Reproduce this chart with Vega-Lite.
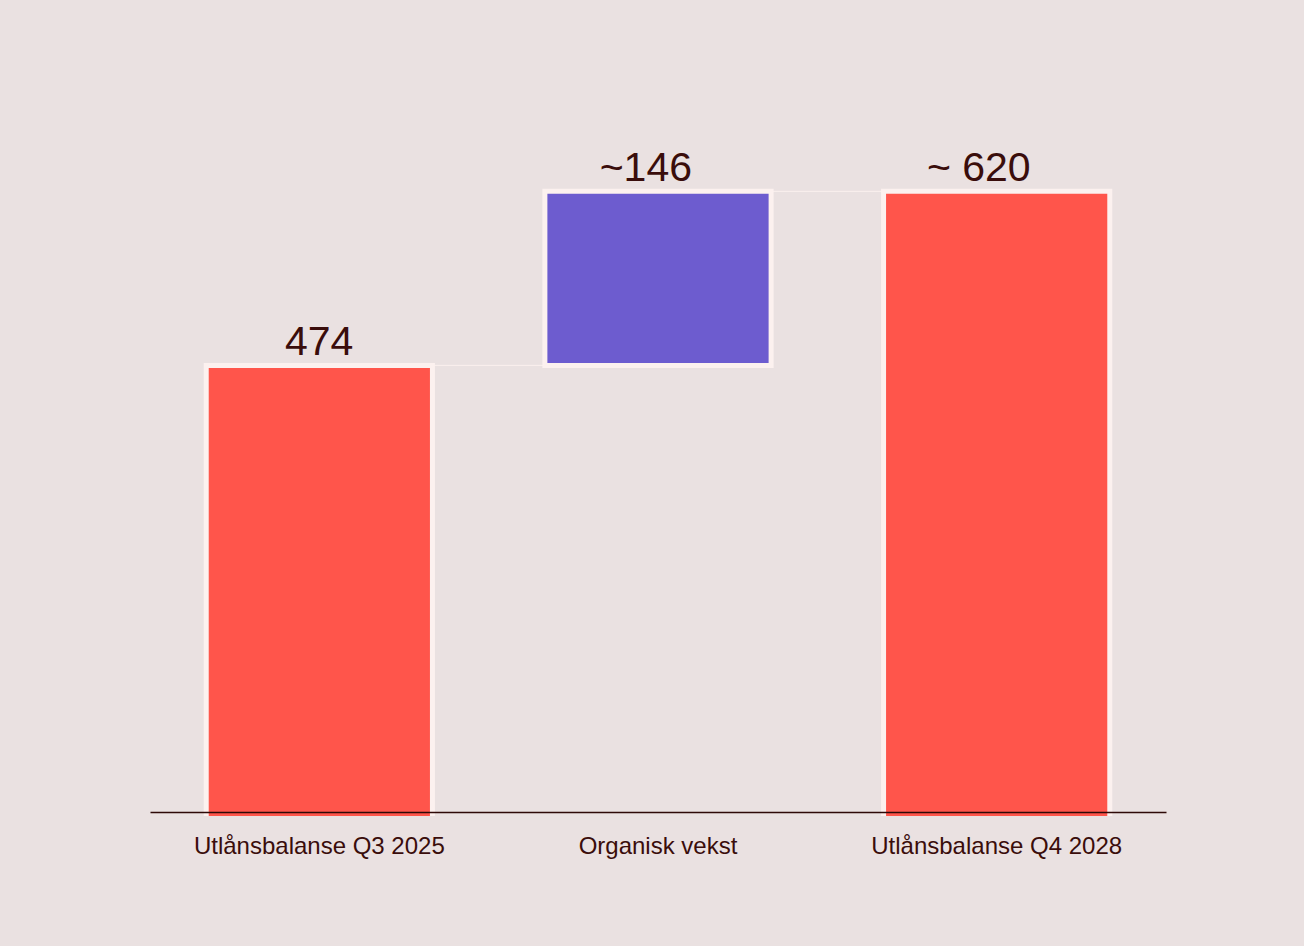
{
  "$schema": "https://vega.github.io/schema/vega-lite/v6.json",
  "width": 1016,
  "height": 720,
  "autosize": {"type": "none"},
  "padding": {"left": 150, "top": 96, "right": 138, "bottom": 130},
  "background": "#eae1e1",
  "config": {
    "view": {"stroke": null},
    "font": "Liberation Sans",
    "axisX": {
      "domainColor": "#2e0907",
      "domainWidth": 1.5,
      "ticks": false,
      "tickSize": 0,
      "labelFontSize": 24,
      "labelColor": "#3a0d0b",
      "labelPadding": 22,
      "labelAngle": 0,
      "labelLimit": 0,
      "offset": -4,
      "grid": false
    }
  },
  "datasets": {
    "bars": [
      {"category": "Utlånsbalanse Q3 2025", "start": 0, "end": 474, "label": "474", "type": "total"},
      {"category": "Organisk vekst", "start": 474, "end": 620, "label": "~146", "type": "change"},
      {"category": "Utlånsbalanse Q4 2028", "start": 0, "end": 620, "label": "~ 620", "type": "total"}
    ],
    "connectors": [
      {"from": "Utlånsbalanse Q3 2025", "to": "Organisk vekst", "level": 474},
      {"from": "Organisk vekst", "to": "Utlånsbalanse Q4 2028", "level": 620}
    ]
  },
  "layer": [
    {
      "data": {"name": "connectors"},
      "mark": {"type": "rule", "color": "#fbf0ee", "strokeWidth": 1, "clip": true},
      "encoding": {
        "x": {"field": "from", "type": "nominal", "title": null, "axis": {"zindex": 1},
              "scale": {"domain": ["Utlånsbalanse Q3 2025", "Organisk vekst", "Utlånsbalanse Q4 2028"], "paddingInner": 0.332, "paddingOuter": 0.166}},
        "x2": {"field": "to"},
        "y": {"field": "level", "type": "quantitative", "axis": null, "scale": {"domain": [96, 700]}}
      }
    },
    {
      "data": {"name": "bars"},
      "mark": {"type": "bar", "stroke": "#fcf1ef", "strokeWidth": 5, "clip": true},
      "encoding": {
        "x": {"field": "category", "type": "nominal", "title": null, "axis": {"zindex": 1},
              "scale": {"domain": ["Utlånsbalanse Q3 2025", "Organisk vekst", "Utlånsbalanse Q4 2028"], "paddingInner": 0.332, "paddingOuter": 0.166}},
        "y": {"field": "end", "type": "quantitative", "axis": null, "scale": {"domain": [96, 700]}},
        "y2": {"field": "start"},
        "color": {"field": "type", "type": "nominal", "legend": null,
                  "scale": {"domain": ["total", "change"], "range": ["#ff554b", "#6d5ccf"]}}
      }
    },
    {
      "data": {"name": "bars"},
      "mark": {"type": "text", "align": "right", "baseline": "alphabetic", "dx": 34, "dy": -10, "fontSize": 41, "color": "#3a0d0b"},
      "encoding": {
        "x": {"field": "category", "type": "nominal", "title": null, "axis": {"zindex": 1},
              "scale": {"domain": ["Utlånsbalanse Q3 2025", "Organisk vekst", "Utlånsbalanse Q4 2028"], "paddingInner": 0.332, "paddingOuter": 0.166}},
        "y": {"field": "end", "type": "quantitative", "axis": null, "scale": {"domain": [96, 700]}},
        "text": {"field": "label"}
      }
    }
  ]
}
